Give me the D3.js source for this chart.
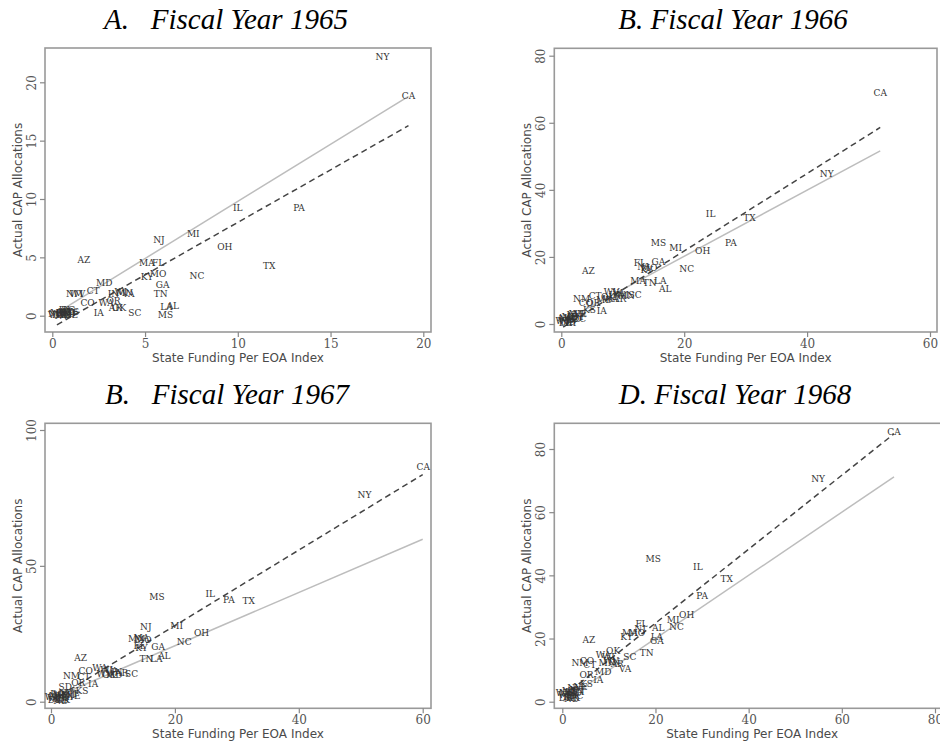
<!DOCTYPE html>
<html>
<head>
<meta charset="utf-8">
<script src="https://cdn.jsdelivr.net/npm/d3@7"></script>
<style>
  body { margin: 0; background: #fff; }
  svg { display: block; }
</style>
</head>
<body>
<div id="chart"></div>
<script>
// ---- data ----
var states1965 = ["NY","CA","IL","PA","NJ","MI","OH","AZ","TX","MA","FL","MO","KY","NC","MD","GA","TN","CT","NM","WV","IN","WI","MN","VA","CO","WA","OR","IA","AR","OK","SC","LA","AL","MS","VT","NH","ME","DE","RI","NV","WY","MT","ID","ND","SD","UT","NE","AK","HI","DC","KS"];
var x1965 = [17.8,19.2,10.0,13.3,5.75,7.6,9.3,1.7,11.7,5.1,5.7,5.7,5.1,7.8,2.8,5.95,5.85,2.2,1.2,1.35,3.3,3.7,3.9,4.1,1.9,2.9,3.3,2.5,3.4,3.6,4.45,6.15,6.5,6.1,0.1,0.2,0.3,0.35,0.45,0.5,0.6,0.7,0.75,0.8,0.9,0.95,1.0,0.55,0.65,0.85,1.1];
var y1965 = [22.2,18.85,9.25,9.2,6.5,7.0,5.9,4.8,4.3,4.5,4.5,3.6,3.3,3.4,2.8,2.6,1.85,2.1,1.9,1.85,1.9,2.0,1.95,1.85,1.1,1.1,1.3,0.2,0.65,0.7,0.25,0.75,0.85,0.1,0.1,0.15,0.2,0.1,0.2,0.0,0.1,0.25,0.1,0.3,0.15,0.2,0.1,0.35,0.45,0.5,0.3];

var states1966 = ["CA","NY","IL","TX","PA","MS","MI","OH","GA","FL","NJ","MO","KY","NC","AZ","MA","TN","LA","AL","NM","CT","SC","WV","VA","WI","IN","OK","AR","MN","MD","WA","CO","OR","KS","IA","VT","NH","ME","DE","RI","NV","WY","MT","ID","ND","SD","UT","NE","AK","HI","DC"];
var x1966 = [51.9,43.2,24.3,30.6,27.6,15.8,18.6,23.0,15.8,12.8,13.3,14.3,13.9,20.4,4.4,12.5,14.4,16.1,16.9,3.3,5.5,12.0,8.2,9.3,10.0,8.7,7.6,9.5,10.6,7.0,8.0,4.0,5.2,4.6,6.6,0.5,0.9,1.3,0.7,1.6,2.0,0.3,2.4,1.8,1.1,2.2,2.7,3.0,0.4,1.5,2.9];
var y1966 = [68.8,44.7,32.7,31.5,24.2,24.1,22.6,21.9,18.6,18.3,16.9,16.6,16.0,16.3,15.9,12.8,12.3,12.8,10.3,7.4,8.2,8.5,9.6,9.1,8.7,8.5,8.0,7.6,8.3,7.2,7.4,6.3,6.2,4.2,4.0,0.8,1.5,2.1,0.3,1.2,2.6,0.9,3.0,2.0,0.6,1.4,2.2,2.9,1.7,0.4,1.5];

var states1967 = ["CA","NY","MS","IL","PA","TX","NJ","MI","OH","NC","MN","MO","MA","KY","FL","GA","TN","LA","AL","AZ","CO","WA","WI","VA","IN","WV","AR","OK","MD","SC","NM","CT","OR","IA","SD","KS","VT","NH","ME","DE","RI","NV","WY","MT","ID","ND","UT","NE","AK","HI","DC"];
var x1967 = [60.1,50.6,17.1,25.7,28.7,31.9,15.3,20.3,24.3,21.5,13.8,14.9,14.6,14.6,14.3,17.3,15.4,17.0,18.3,4.8,5.6,7.9,9.0,9.8,10.6,8.6,11.4,9.4,10.2,13.0,3.3,5.3,4.4,6.8,2.3,5.0,0.4,0.9,1.5,0.6,1.9,2.4,0.2,2.9,1.3,1.6,3.3,3.6,2.0,2.7,1.0];
var y1967 = [86.5,76.1,38.7,39.6,37.4,37.2,27.6,28.0,25.2,21.9,23.1,22.7,23.3,19.6,20.4,20.2,15.7,15.7,16.8,16.0,11.4,12.3,11.8,11.2,10.8,10.2,10.4,9.9,10.0,10.2,9.6,9.2,6.8,6.4,5.5,4.1,1.2,2.0,2.6,0.5,1.4,3.2,1.8,2.4,1.0,0.2,3.0,2.0,0.8,1.6,2.9];

var states1968 = ["CA","NY","MS","IL","TX","PA","OH","MI","NC","FL","NJ","MA","KY","MO","AL","LA","GA","AZ","TN","SC","OK","WA","WI","WV","IN","MN","AR","NM","CO","CT","VA","MD","OR","IA","KS","VT","NH","ME","DE","RI","NV","WY","MT","ID","ND","SD","UT","NE","AK","HI","DC"];
var x1968 = [71.2,54.9,19.5,29.1,35.3,30.0,26.7,23.8,24.5,17.0,16.7,14.5,13.8,16.0,20.6,20.3,20.3,5.7,18.1,14.5,10.9,8.8,9.9,10.4,11.2,9.6,11.8,3.8,5.3,5.9,13.5,8.8,5.2,7.7,5.2,0.4,1.0,1.6,0.7,2.1,2.6,0.2,3.2,1.4,2.0,2.8,3.6,3.9,2.4,1.8,3.0];
var y1968 = [85.5,70.4,45.1,42.5,38.8,33.6,27.4,25.9,23.5,24.5,23.0,21.9,20.6,21.6,23.2,20.4,19.2,19.5,15.3,14.2,16.0,14.8,14.0,13.0,12.6,12.2,11.8,12.3,12.9,11.5,10.4,9.5,8.5,6.9,5.6,2.0,2.8,3.5,1.2,2.0,4.2,2.6,3.8,1.6,0.8,2.6,3.0,4.5,1.2,3.0,1.8];

// fitted lines: end points (x) and their y values
var fitX1965 = [0.25, 19.2], solid1965 = [0.25, 18.8], dashed1965 = [-0.78, 16.28];
var fitX1966 = [0.3, 51.9],  solid1966 = [0.8, 51.6],  dashed1966 = [-0.95, 58.6];
var fitX1967 = [0.2, 60.0],  solid1967 = [1.2, 59.8],  dashed1967 = [0.5, 83.6];
var fitX1968 = [0.2, 71.2],  solid1968 = [0.2, 71.2],  dashed1968 = [1.7, 84.8];

var xTicks1965 = [0,5,10,15,20], yTicks1965 = [0,5,10,15,20];
var xTicks1966 = [0,20,40,60],   yTicks1966 = [0,20,40,60,80];
var xTicks1967 = [0,20,40,60],   yTicks1967 = [0,50,100];
var xTicks1968 = [0,20,40,60,80], yTicks1968 = [0,20,40,60,80];

var titles = ["A.   Fiscal Year 1965", "B. Fiscal Year 1966", "B.   Fiscal Year 1967", "D. Fiscal Year 1968"];

// ---- svg ----
var svg = d3.select("#chart")
  .append("svg")
  .attr("width", 940)
  .attr("height", 745);

function drawPanel(p) {
  var g = svg.append("g");

  var x = d3.scaleLinear().domain(p.xDom).range(p.xRange);
  var y = d3.scaleLinear().domain(p.yDom).range(p.yRange);

  // title
  svg.append("text")
    .attr("x", p.titleX)
    .attr("y", p.titleY)
    .attr("text-anchor", "middle")
    .style("white-space", "pre")
    .style("font-family", "'Liberation Serif', 'Times New Roman', serif")
    .style("font-style", "italic")
    .style("font-size", "29px")
    .attr("fill", "#000")
    .text(p.title);

  // plot box
  g.append("rect")
    .attr("x", p.box[0])
    .attr("y", p.box[1])
    .attr("width", p.box[2] - p.box[0])
    .attr("height", p.box[3] - p.box[1])
    .attr("fill", "none")
    .attr("stroke", "#999")
    .attr("stroke-width", 1.6);

  // axes
  var xAxis = g.append("g")
    .attr("transform", `translate(0, ${p.box[3]})`)
    .call(d3.axisBottom(x).tickValues(p.xTicks).tickSize(5).tickFormat(d3.format("d")));
  var yAxis = g.append("g")
    .attr("transform", `translate(${p.box[0]}, 0)`)
    .call(d3.axisLeft(y).tickValues(p.yTicks).tickSize(5).tickFormat(d3.format("d")));

  [xAxis, yAxis].forEach(function(a) {
    a.select(".domain").remove();
    a.selectAll(".tick line").attr("stroke", "#888").attr("stroke-width", 1.2);
    a.selectAll(".tick text")
      .attr("fill", "#555")
      .style("font-family", "'DejaVu Serif', serif")
      .style("font-size", "12px");
  });
  xAxis.selectAll(".tick text").attr("y", 7);
  yAxis.selectAll(".tick text")
    .attr("x", 0).attr("y", 0)
    .attr("dy", 0)
    .attr("text-anchor", "middle")
    .attr("transform", "translate(-13,0) rotate(-90)")
    .attr("dominant-baseline", "central");

  // axis titles
  g.append("text")
    .attr("x", (p.box[0] + p.box[2]) / 2)
    .attr("y", p.box[3] + 30)
    .attr("text-anchor", "middle")
    .attr("fill", "#4a4a4a")
    .style("font-family", "'DejaVu Sans', sans-serif")
    .style("font-size", "12px")
    .text("State Funding Per EOA Index");

  g.append("text")
    .attr("transform", `translate(${p.box[0] - 27}, ${(p.box[1] + p.box[3]) / 2}) rotate(-90)`)
    .attr("text-anchor", "middle")
    .attr("dominant-baseline", "central")
    .attr("fill", "#4a4a4a")
    .style("font-family", "'DejaVu Sans', sans-serif")
    .style("font-size", "12px")
    .text("Actual CAP Allocations");

  // fitted lines
  var line = d3.line()
    .x(d => x(d[0]))
    .y(d => y(d[1]));

  g.append("path")
    .datum(d3.zip(p.fitX, p.solid))
    .attr("d", line)
    .attr("fill", "none")
    .attr("stroke", "#bdbdbd")
    .attr("stroke-width", 1.5);

  g.append("path")
    .datum(d3.zip(p.fitX, p.dashed))
    .attr("d", line)
    .attr("fill", "none")
    .attr("stroke", "#444")
    .attr("stroke-width", 1.5)
    .attr("stroke-dasharray", "6,4");

  // state labels
  g.selectAll(null)
    .data(d3.zip(p.states, p.xs, p.ys))
    .enter()
    .append("text")
    .attr("x", d => x(d[1]))
    .attr("y", d => y(d[2]))
    .attr("text-anchor", "middle")
    .attr("dominant-baseline", "central")
    .attr("fill", "#333")
    .style("font-family", "'DejaVu Serif', serif")
    .style("font-size", "9px")
    .text(d => d[0]);
}

drawPanel({
  title: titles[0], titleX: 226, titleY: 29,
  box: [45, 48, 431, 332],
  xDom: [0, 20], xRange: [52.3, 423.3],
  yDom: [0, 20], yRange: [315.7, 82.3],
  xTicks: xTicks1965, yTicks: yTicks1965,
  states: states1965, xs: x1965, ys: y1965,
  fitX: fitX1965, solid: solid1965, dashed: dashed1965
});

drawPanel({
  title: titles[1], titleX: 733, titleY: 29,
  box: [554.3, 48.3, 937, 332],
  xDom: [0, 60], xRange: [561.3, 930],
  yDom: [0, 80], yRange: [324, 55.7],
  xTicks: xTicks1966, yTicks: yTicks1966,
  states: states1966, xs: x1966, ys: y1966,
  fitX: fitX1966, solid: solid1966, dashed: dashed1966
});

drawPanel({
  title: titles[2], titleX: 227, titleY: 404,
  box: [45, 423.3, 431, 708.3],
  xDom: [0, 60], xRange: [51, 422.7],
  yDom: [0, 100], yRange: [701.7, 430],
  xTicks: xTicks1967, yTicks: yTicks1967,
  states: states1967, xs: x1967, ys: y1967,
  fitX: fitX1967, solid: solid1967, dashed: dashed1967
});

drawPanel({
  title: titles[3], titleX: 735, titleY: 404,
  box: [554.3, 423.3, 950, 708.3],
  xDom: [0, 80], xRange: [562.3, 935],
  yDom: [0, 80], yRange: [701.7, 449],
  xTicks: xTicks1968, yTicks: yTicks1968,
  states: states1968, xs: x1968, ys: y1968,
  fitX: fitX1968, solid: solid1968, dashed: dashed1968
});
</script>
</body>
</html>
